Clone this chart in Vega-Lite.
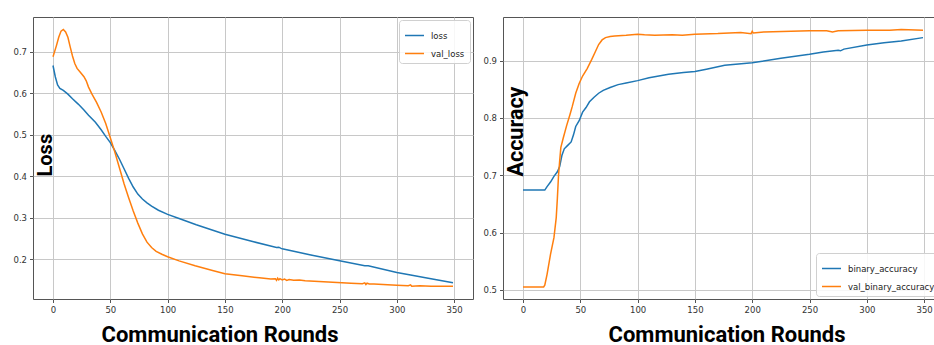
{
  "$schema": "https://vega.github.io/schema/vega-lite/v6.json",
  "padding": {"left": 12, "top": 16, "right": 0, "bottom": 0},
  "background": "white",
  "spacing": 30,
  "bounds": "flush",
  "config": {
    "view": {"stroke": "#555555", "strokeWidth": 1},
    "axis": {
      "labelFont": "DejaVu Sans",
      "labelFontSize": 8.5,
      "labelColor": "#333333",
      "tickColor": "#555555",
      "tickSize": 3.5,
      "labelPadding": 3,
      "gridColor": "#c8c8c8",
      "gridWidth": 1,
      "domain": false,
      "titleFont": "Liberation Sans Narrow, Roboto, sans-serif",
      "titleFontWeight": "bold",
      "titleColor": "#000000"
    },
    "legend": {
      "labelFont": "DejaVu Sans",
      "labelFontSize": 8.5,
      "labelColor": "#222222",
      "symbolType": "stroke",
      "symbolSize": 360,
      "symbolStrokeWidth": 1.5,
      "strokeColor": "#d0d0d0",
      "fillColor": "rgba(255,255,255,0.85)",
      "cornerRadius": 3,
      "padding": 5,
      "rowPadding": 3,
      "labelOffset": 6,
      "offset": 3
    }
  },
  "datasets": {
    "loss": [
      {"round": 0, "value": 0.667, "series": "loss"},
      {"round": 2, "value": 0.640, "series": "loss"},
      {"round": 4, "value": 0.620, "series": "loss"},
      {"round": 6, "value": 0.612, "series": "loss"},
      {"round": 9, "value": 0.607, "series": "loss"},
      {"round": 13, "value": 0.598, "series": "loss"},
      {"round": 17, "value": 0.587, "series": "loss"},
      {"round": 22, "value": 0.574, "series": "loss"},
      {"round": 27, "value": 0.560, "series": "loss"},
      {"round": 31, "value": 0.547, "series": "loss"},
      {"round": 37, "value": 0.530, "series": "loss"},
      {"round": 42, "value": 0.512, "series": "loss"},
      {"round": 46, "value": 0.496, "series": "loss"},
      {"round": 50, "value": 0.481, "series": "loss"},
      {"round": 54, "value": 0.462, "series": "loss"},
      {"round": 58, "value": 0.441, "series": "loss"},
      {"round": 62, "value": 0.418, "series": "loss"},
      {"round": 66, "value": 0.395, "series": "loss"},
      {"round": 70, "value": 0.374, "series": "loss"},
      {"round": 74, "value": 0.357, "series": "loss"},
      {"round": 78, "value": 0.345, "series": "loss"},
      {"round": 82, "value": 0.336, "series": "loss"},
      {"round": 86, "value": 0.328, "series": "loss"},
      {"round": 92, "value": 0.318, "series": "loss"},
      {"round": 100, "value": 0.308, "series": "loss"},
      {"round": 110, "value": 0.298, "series": "loss"},
      {"round": 125, "value": 0.283, "series": "loss"},
      {"round": 150, "value": 0.260, "series": "loss"},
      {"round": 175, "value": 0.242, "series": "loss"},
      {"round": 195, "value": 0.228, "series": "loss"},
      {"round": 197, "value": 0.229, "series": "loss"},
      {"round": 199, "value": 0.226, "series": "loss"},
      {"round": 200, "value": 0.225, "series": "loss"},
      {"round": 225, "value": 0.210, "series": "loss"},
      {"round": 250, "value": 0.196, "series": "loss"},
      {"round": 272, "value": 0.184, "series": "loss"},
      {"round": 275, "value": 0.184, "series": "loss"},
      {"round": 300, "value": 0.168, "series": "loss"},
      {"round": 312, "value": 0.162, "series": "loss"},
      {"round": 325, "value": 0.155, "series": "loss"},
      {"round": 349, "value": 0.143, "series": "loss"},
      {"round": 0, "value": 0.688, "series": "val_loss"},
      {"round": 3, "value": 0.715, "series": "val_loss"},
      {"round": 5, "value": 0.735, "series": "val_loss"},
      {"round": 7, "value": 0.750, "series": "val_loss"},
      {"round": 9, "value": 0.754, "series": "val_loss"},
      {"round": 11, "value": 0.748, "series": "val_loss"},
      {"round": 13, "value": 0.735, "series": "val_loss"},
      {"round": 15, "value": 0.712, "series": "val_loss"},
      {"round": 17, "value": 0.690, "series": "val_loss"},
      {"round": 19, "value": 0.672, "series": "val_loss"},
      {"round": 21, "value": 0.660, "series": "val_loss"},
      {"round": 24, "value": 0.650, "series": "val_loss"},
      {"round": 27, "value": 0.640, "series": "val_loss"},
      {"round": 29, "value": 0.630, "series": "val_loss"},
      {"round": 31, "value": 0.615, "series": "val_loss"},
      {"round": 34, "value": 0.598, "series": "val_loss"},
      {"round": 38, "value": 0.578, "series": "val_loss"},
      {"round": 42, "value": 0.555, "series": "val_loss"},
      {"round": 46, "value": 0.527, "series": "val_loss"},
      {"round": 50, "value": 0.493, "series": "val_loss"},
      {"round": 54, "value": 0.458, "series": "val_loss"},
      {"round": 58, "value": 0.420, "series": "val_loss"},
      {"round": 62, "value": 0.382, "series": "val_loss"},
      {"round": 66, "value": 0.348, "series": "val_loss"},
      {"round": 70, "value": 0.316, "series": "val_loss"},
      {"round": 74, "value": 0.287, "series": "val_loss"},
      {"round": 78, "value": 0.261, "series": "val_loss"},
      {"round": 82, "value": 0.241, "series": "val_loss"},
      {"round": 86, "value": 0.228, "series": "val_loss"},
      {"round": 90, "value": 0.219, "series": "val_loss"},
      {"round": 95, "value": 0.212, "series": "val_loss"},
      {"round": 100, "value": 0.206, "series": "val_loss"},
      {"round": 110, "value": 0.196, "series": "val_loss"},
      {"round": 124, "value": 0.184, "series": "val_loss"},
      {"round": 140, "value": 0.172, "series": "val_loss"},
      {"round": 150, "value": 0.165, "series": "val_loss"},
      {"round": 165, "value": 0.160, "series": "val_loss"},
      {"round": 180, "value": 0.155, "series": "val_loss"},
      {"round": 190, "value": 0.152, "series": "val_loss"},
      {"round": 194, "value": 0.153, "series": "val_loss"},
      {"round": 195, "value": 0.149, "series": "val_loss"},
      {"round": 196, "value": 0.154, "series": "val_loss"},
      {"round": 197, "value": 0.150, "series": "val_loss"},
      {"round": 198, "value": 0.153, "series": "val_loss"},
      {"round": 200, "value": 0.150, "series": "val_loss"},
      {"round": 202, "value": 0.152, "series": "val_loss"},
      {"round": 204, "value": 0.149, "series": "val_loss"},
      {"round": 206, "value": 0.151, "series": "val_loss"},
      {"round": 210, "value": 0.149, "series": "val_loss"},
      {"round": 215, "value": 0.150, "series": "val_loss"},
      {"round": 220, "value": 0.148, "series": "val_loss"},
      {"round": 240, "value": 0.145, "series": "val_loss"},
      {"round": 260, "value": 0.142, "series": "val_loss"},
      {"round": 270, "value": 0.141, "series": "val_loss"},
      {"round": 272, "value": 0.143, "series": "val_loss"},
      {"round": 273, "value": 0.139, "series": "val_loss"},
      {"round": 274, "value": 0.142, "series": "val_loss"},
      {"round": 276, "value": 0.140, "series": "val_loss"},
      {"round": 280, "value": 0.140, "series": "val_loss"},
      {"round": 300, "value": 0.137, "series": "val_loss"},
      {"round": 310, "value": 0.136, "series": "val_loss"},
      {"round": 312, "value": 0.138, "series": "val_loss"},
      {"round": 313, "value": 0.135, "series": "val_loss"},
      {"round": 320, "value": 0.136, "series": "val_loss"},
      {"round": 330, "value": 0.135, "series": "val_loss"},
      {"round": 340, "value": 0.135, "series": "val_loss"},
      {"round": 349, "value": 0.135, "series": "val_loss"}
    ],
    "acc": [
      {"round": 0, "value": 0.674, "series": "binary_accuracy"},
      {"round": 19, "value": 0.674, "series": "binary_accuracy"},
      {"round": 21, "value": 0.680, "series": "binary_accuracy"},
      {"round": 24, "value": 0.688, "series": "binary_accuracy"},
      {"round": 27, "value": 0.698, "series": "binary_accuracy"},
      {"round": 30, "value": 0.706, "series": "binary_accuracy"},
      {"round": 32, "value": 0.715, "series": "binary_accuracy"},
      {"round": 34, "value": 0.735, "series": "binary_accuracy"},
      {"round": 36, "value": 0.746, "series": "binary_accuracy"},
      {"round": 39, "value": 0.752, "series": "binary_accuracy"},
      {"round": 42, "value": 0.758, "series": "binary_accuracy"},
      {"round": 44, "value": 0.770, "series": "binary_accuracy"},
      {"round": 46, "value": 0.785, "series": "binary_accuracy"},
      {"round": 49, "value": 0.795, "series": "binary_accuracy"},
      {"round": 52, "value": 0.810, "series": "binary_accuracy"},
      {"round": 55, "value": 0.818, "series": "binary_accuracy"},
      {"round": 58, "value": 0.828, "series": "binary_accuracy"},
      {"round": 62, "value": 0.836, "series": "binary_accuracy"},
      {"round": 66, "value": 0.843, "series": "binary_accuracy"},
      {"round": 70, "value": 0.848, "series": "binary_accuracy"},
      {"round": 76, "value": 0.853, "series": "binary_accuracy"},
      {"round": 83, "value": 0.858, "series": "binary_accuracy"},
      {"round": 90, "value": 0.861, "series": "binary_accuracy"},
      {"round": 100, "value": 0.865, "series": "binary_accuracy"},
      {"round": 110, "value": 0.870, "series": "binary_accuracy"},
      {"round": 127, "value": 0.876, "series": "binary_accuracy"},
      {"round": 140, "value": 0.879, "series": "binary_accuracy"},
      {"round": 150, "value": 0.881, "series": "binary_accuracy"},
      {"round": 160, "value": 0.885, "series": "binary_accuracy"},
      {"round": 176, "value": 0.892, "series": "binary_accuracy"},
      {"round": 200, "value": 0.896, "series": "binary_accuracy"},
      {"round": 225, "value": 0.904, "series": "binary_accuracy"},
      {"round": 250, "value": 0.911, "series": "binary_accuracy"},
      {"round": 262, "value": 0.915, "series": "binary_accuracy"},
      {"round": 275, "value": 0.918, "series": "binary_accuracy"},
      {"round": 277, "value": 0.917, "series": "binary_accuracy"},
      {"round": 280, "value": 0.920, "series": "binary_accuracy"},
      {"round": 300, "value": 0.927, "series": "binary_accuracy"},
      {"round": 315, "value": 0.931, "series": "binary_accuracy"},
      {"round": 330, "value": 0.934, "series": "binary_accuracy"},
      {"round": 349, "value": 0.940, "series": "binary_accuracy"},
      {"round": 0, "value": 0.505, "series": "val_binary_accuracy"},
      {"round": 18, "value": 0.505, "series": "val_binary_accuracy"},
      {"round": 19, "value": 0.508, "series": "val_binary_accuracy"},
      {"round": 21, "value": 0.527, "series": "val_binary_accuracy"},
      {"round": 24, "value": 0.562, "series": "val_binary_accuracy"},
      {"round": 27, "value": 0.591, "series": "val_binary_accuracy"},
      {"round": 29, "value": 0.626, "series": "val_binary_accuracy"},
      {"round": 30, "value": 0.660, "series": "val_binary_accuracy"},
      {"round": 31, "value": 0.700, "series": "val_binary_accuracy"},
      {"round": 32, "value": 0.725, "series": "val_binary_accuracy"},
      {"round": 33, "value": 0.748, "series": "val_binary_accuracy"},
      {"round": 35, "value": 0.764, "series": "val_binary_accuracy"},
      {"round": 38, "value": 0.786, "series": "val_binary_accuracy"},
      {"round": 41, "value": 0.806, "series": "val_binary_accuracy"},
      {"round": 43, "value": 0.820, "series": "val_binary_accuracy"},
      {"round": 46, "value": 0.843, "series": "val_binary_accuracy"},
      {"round": 49, "value": 0.860, "series": "val_binary_accuracy"},
      {"round": 52, "value": 0.873, "series": "val_binary_accuracy"},
      {"round": 56, "value": 0.886, "series": "val_binary_accuracy"},
      {"round": 60, "value": 0.902, "series": "val_binary_accuracy"},
      {"round": 63, "value": 0.915, "series": "val_binary_accuracy"},
      {"round": 66, "value": 0.928, "series": "val_binary_accuracy"},
      {"round": 69, "value": 0.936, "series": "val_binary_accuracy"},
      {"round": 72, "value": 0.940, "series": "val_binary_accuracy"},
      {"round": 76, "value": 0.942, "series": "val_binary_accuracy"},
      {"round": 80, "value": 0.943, "series": "val_binary_accuracy"},
      {"round": 90, "value": 0.944, "series": "val_binary_accuracy"},
      {"round": 100, "value": 0.946, "series": "val_binary_accuracy"},
      {"round": 106, "value": 0.945, "series": "val_binary_accuracy"},
      {"round": 115, "value": 0.944, "series": "val_binary_accuracy"},
      {"round": 130, "value": 0.945, "series": "val_binary_accuracy"},
      {"round": 139, "value": 0.944, "series": "val_binary_accuracy"},
      {"round": 150, "value": 0.946, "series": "val_binary_accuracy"},
      {"round": 170, "value": 0.947, "series": "val_binary_accuracy"},
      {"round": 190, "value": 0.949, "series": "val_binary_accuracy"},
      {"round": 199, "value": 0.947, "series": "val_binary_accuracy"},
      {"round": 200, "value": 0.951, "series": "val_binary_accuracy"},
      {"round": 201, "value": 0.948, "series": "val_binary_accuracy"},
      {"round": 210, "value": 0.950, "series": "val_binary_accuracy"},
      {"round": 250, "value": 0.952, "series": "val_binary_accuracy"},
      {"round": 265, "value": 0.952, "series": "val_binary_accuracy"},
      {"round": 270, "value": 0.950, "series": "val_binary_accuracy"},
      {"round": 275, "value": 0.952, "series": "val_binary_accuracy"},
      {"round": 300, "value": 0.953, "series": "val_binary_accuracy"},
      {"round": 320, "value": 0.953, "series": "val_binary_accuracy"},
      {"round": 330, "value": 0.954, "series": "val_binary_accuracy"},
      {"round": 349, "value": 0.953, "series": "val_binary_accuracy"}
    ]
  },
  "hconcat": [
    {
      "width": 440,
      "height": 282,
      "data": {"name": "loss"},
      "mark": {"type": "line", "strokeWidth": 1.5},
      "encoding": {
        "x": {
          "field": "round", "type": "quantitative",
          "scale": {"domain": [-17.45, 366.45], "nice": false, "zero": false},
          "axis": {
            "values": [0, 50, 100, 150, 200, 250, 300, 350], "format": "d",
            "title": "Communication Rounds", "titleFontSize": 22,
            "titleX": 186.5, "titleY": 42, "titleBaseline": "alphabetic", "titleAlign": "center"
          }
        },
        "y": {
          "field": "value", "type": "quantitative",
          "scale": {"domain": [0.104, 0.784], "nice": false, "zero": false},
          "axis": {
            "values": [0.2, 0.3, 0.4, 0.5, 0.6, 0.7], "format": ".1f",
            "title": "Loss", "titleFontSize": 20, "titleAngle": 270,
            "titleX": 18, "titleY": 159, "titleAlign": "left", "titleBaseline": "alphabetic"
          }
        },
        "color": {
          "field": "series", "type": "nominal",
          "scale": {"domain": ["loss", "val_loss"], "range": ["#1f77b4", "#ff7f0e"]},
          "legend": {"title": null, "orient": "top-right"}
        }
      }
    },
    {
      "width": 440,
      "height": 282,
      "data": {"name": "acc"},
      "mark": {"type": "line", "strokeWidth": 1.5},
      "encoding": {
        "x": {
          "field": "round", "type": "quantitative",
          "scale": {"domain": [-17.45, 366.45], "nice": false, "zero": false},
          "axis": {
            "values": [0, 50, 100, 150, 200, 250, 300, 350], "format": "d",
            "title": "Communication Rounds", "titleFontSize": 22,
            "titleX": 223.5, "titleY": 42, "titleBaseline": "alphabetic", "titleAlign": "center"
          }
        },
        "y": {
          "field": "value", "type": "quantitative",
          "scale": {"domain": [0.484, 0.976], "nice": false, "zero": false},
          "axis": {
            "values": [0.5, 0.6, 0.7, 0.8, 0.9], "format": ".1f",
            "title": "Accuracy", "titleFontSize": 21.5, "titleAngle": 270,
            "titleX": 19, "titleY": 159, "titleAlign": "left", "titleBaseline": "alphabetic"
          }
        },
        "color": {
          "field": "series", "type": "nominal",
          "scale": {"domain": ["binary_accuracy", "val_binary_accuracy"], "range": ["#1f77b4", "#ff7f0e"]},
          "legend": {"title": null, "orient": "bottom-right"}
        }
      }
    }
  ],
  "resolve": {"scale": {"color": "independent"}, "legend": {"color": "independent"}}
}
